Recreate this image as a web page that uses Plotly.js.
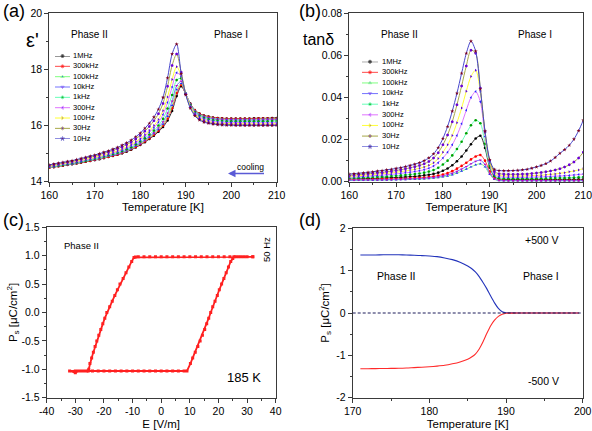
<!DOCTYPE html>
<html><head><meta charset="utf-8">
<script src="https://cdn.plot.ly/plotly-3.0.1.min.js"></script>
<style>html,body{margin:0;padding:0;background:#fff;} #chart{width:592px;height:431px;}</style>
</head><body><div id="chart"></div>
<script>
// ---------- DATA ----------
const T = [160,161,162,163,164,165,166,167,168,169,170,171,172,173,174,175,176,177,178,179,180,181,182,183,184,185,186,187,188,189,190,191,192,193,194,195,196,197,198,199,200,201,202,203,204,205,206,207,208,209,210];
const freqs = ['1MHz','300kHz','100kHz','10kHz','1kHz','300Hz','100Hz','30Hz','10Hz'];

// panel (a): real permittivity
const eps1MHz  = [14.50,14.52,14.55,14.57,14.60,14.62,14.65,14.68,14.71,14.74,14.77,14.80,14.84,14.88,14.92,14.96,15.01,15.07,15.14,15.22,15.31,15.41,15.52,15.64,15.78,15.95,16.18,16.52,17.05,17.40,17.12,16.78,16.55,16.43,16.36,16.32,16.29,16.27,16.26,16.25,16.25,16.25,16.25,16.25,16.25,16.26,16.26,16.26,16.26,16.27,16.27];
const eps300kHz= [14.50,14.52,14.55,14.58,14.61,14.63,14.66,14.69,14.72,14.75,14.78,14.81,14.85,14.89,14.93,14.97,15.02,15.09,15.16,15.24,15.33,15.43,15.55,15.67,15.82,16.00,16.25,16.62,17.16,17.45,17.12,16.77,16.54,16.42,16.35,16.31,16.28,16.26,16.25,16.24,16.24,16.24,16.24,16.24,16.24,16.24,16.25,16.25,16.25,16.25,16.25];
const eps100kHz= [14.51,14.53,14.56,14.58,14.61,14.63,14.66,14.70,14.73,14.76,14.79,14.82,14.86,14.90,14.94,14.99,15.04,15.10,15.17,15.26,15.35,15.46,15.58,15.71,15.86,16.05,16.33,16.72,17.28,17.50,17.13,16.76,16.53,16.40,16.33,16.29,16.26,16.24,16.23,16.22,16.22,16.22,16.22,16.22,16.22,16.22,16.22,16.23,16.23,16.23,16.23];
const eps10kHz = [14.52,14.54,14.57,14.59,14.62,14.64,14.67,14.71,14.74,14.77,14.80,14.83,14.88,14.92,14.96,15.00,15.06,15.12,15.20,15.29,15.38,15.49,15.62,15.75,15.92,16.13,16.44,16.87,17.42,17.58,17.14,16.75,16.51,16.38,16.30,16.26,16.23,16.21,16.20,16.19,16.19,16.19,16.19,16.19,16.19,16.19,16.19,16.19,16.20,16.20,16.20];
const eps1kHz  = [14.53,14.55,14.58,14.60,14.63,14.66,14.69,14.72,14.75,14.79,14.82,14.86,14.90,14.94,14.99,15.03,15.09,15.16,15.23,15.33,15.43,15.55,15.68,15.82,16.00,16.24,16.61,17.09,17.62,17.68,17.14,16.73,16.48,16.35,16.27,16.22,16.19,16.17,16.16,16.15,16.15,16.15,16.15,16.15,16.15,16.15,16.15,16.15,16.15,16.16,16.16];
const eps300Hz = [14.54,14.57,14.60,14.62,14.65,14.68,14.71,14.74,14.78,14.81,14.85,14.88,14.93,14.97,15.02,15.07,15.13,15.20,15.28,15.38,15.49,15.62,15.76,15.92,16.12,16.39,16.82,17.37,17.88,17.75,17.14,16.70,16.45,16.31,16.23,16.18,16.15,16.13,16.12,16.11,16.11,16.11,16.11,16.10,16.10,16.10,16.10,16.10,16.10,16.10,16.10];
const eps100Hz = [14.56,14.58,14.61,14.64,14.67,14.69,14.73,14.76,14.80,14.83,14.87,14.91,14.96,15.00,15.05,15.10,15.17,15.24,15.33,15.43,15.54,15.68,15.83,16.00,16.22,16.53,17.02,17.64,18.10,17.78,17.13,16.68,16.42,16.27,16.19,16.14,16.11,16.09,16.08,16.07,16.07,16.07,16.07,16.07,16.06,16.06,16.06,16.06,16.06,16.06,16.06];
const eps30Hz  = [14.58,14.61,14.64,14.67,14.70,14.72,14.76,14.80,14.84,14.88,14.91,14.96,15.01,15.06,15.11,15.17,15.24,15.32,15.41,15.52,15.65,15.80,15.97,16.17,16.42,16.79,17.40,18.14,18.55,17.90,17.12,16.65,16.38,16.23,16.15,16.10,16.08,16.06,16.05,16.04,16.04,16.04,16.04,16.03,16.03,16.03,16.03,16.03,16.03,16.03,16.03];
const eps10Hz  = [14.60,14.63,14.66,14.69,14.72,14.75,14.79,14.83,14.87,14.91,14.95,15.00,15.05,15.10,15.16,15.22,15.30,15.38,15.48,15.60,15.73,15.90,16.08,16.30,16.58,17.00,17.70,18.55,18.90,17.85,17.10,16.62,16.35,16.20,16.12,16.08,16.05,16.03,16.02,16.01,16.01,16.00,16.00,16.00,16.00,16.00,16.00,16.00,16.00,16.00,16.00];

// panel (b): loss tangent
const tan1MHz  = [.0013,.0013,.0014,.0014,.0015,.0016,.0016,.0017,.0018,.0019,.0020,.0021,.0022,.0024,.0025,.0027,.0030,.0033,.0037,.0043,.0052,.0063,.0078,.0097,.0120,.0148,.0178,.0205,.0218,.0160,.0068,.0025,.0013,.0011,.0010,.0010,.0010,.0010,.0010,.0010,.0010,.0010,.0010,.0010,.0010,.0011,.0011,.0011,.0011,.0011,.0011];
const tan300kHz= [.0009,.0009,.0010,.0010,.0010,.0011,.0011,.0012,.0012,.0013,.0014,.0014,.0015,.0016,.0017,.0018,.0020,.0022,.0025,.0029,.0034,.0041,.0050,.0062,.0075,.0090,.0106,.0120,.0127,.0100,.0048,.0015,.0008,.0007,.0006,.0006,.0006,.0006,.0006,.0006,.0006,.0006,.0006,.0006,.0006,.0006,.0006,.0006,.0006,.0006,.0006];
const tan100kHz= [.0006,.0006,.0006,.0007,.0007,.0007,.0008,.0008,.0008,.0009,.0009,.0010,.0010,.0011,.0011,.0012,.0013,.0015,.0017,.0019,.0023,.0027,.0033,.0041,.0050,.0060,.0070,.0080,.0085,.0070,.0035,.0011,.0005,.0004,.0004,.0004,.0004,.0004,.0004,.0004,.0004,.0004,.0004,.0004,.0004,.0004,.0004,.0004,.0004,.0004,.0004];
const tan10kHz = [.0007,.0007,.0008,.0008,.0008,.0009,.0009,.0009,.0010,.0010,.0011,.0011,.0012,.0013,.0014,.0015,.0016,.0018,.0020,.0023,.0027,.0033,.0040,.0049,.0060,.0072,.0085,.0097,.0102,.0082,.0040,.0013,.0006,.0005,.0005,.0005,.0005,.0005,.0005,.0005,.0005,.0005,.0005,.0005,.0005,.0005,.0005,.0005,.0005,.0005,.0005];
const tan1kHz  = [.0018,.0019,.0019,.0020,.0021,.0022,.0023,.0024,.0025,.0027,.0028,.0030,.0032,.0034,.0036,.0039,.0043,.0048,.0055,.0066,.0082,.0100,.0125,.0155,.0190,.0230,.0268,.0292,.0278,.0180,.0075,.0028,.0017,.0015,.0015,.0015,.0015,.0015,.0015,.0015,.0016,.0016,.0016,.0017,.0017,.0018,.0018,.0019,.0020,.0021,.0022];
const tan300Hz = [.0022,.0023,.0024,.0025,.0027,.0028,.0030,.0031,.0033,.0035,.0037,.0040,.0042,.0045,.0048,.0052,.0057,.0064,.0074,.0090,.0112,.0140,.0175,.0220,.0275,.0340,.0400,.0428,.0380,.0215,.0088,.0034,.0024,.0022,.0021,.0021,.0021,.0021,.0021,.0022,.0022,.0023,.0024,.0025,.0026,.0027,.0028,.0030,.0032,.0034,.0036];
const tan100Hz = [.0026,.0027,.0029,.0030,.0032,.0034,.0036,.0038,.0040,.0042,.0045,.0048,.0051,.0055,.0059,.0064,.0070,.0078,.0090,.0110,.0140,.0175,.0220,.0280,.0350,.0430,.0500,.0530,.0430,.0232,.0095,.0040,.0030,.0028,.0027,.0027,.0027,.0027,.0028,.0029,.0030,.0031,.0033,.0035,.0037,.0040,.0043,.0047,.0051,.0056,.0062];
const tan30Hz  = [.0030,.0032,.0034,.0036,.0038,.0040,.0042,.0044,.0047,.0050,.0053,.0057,.0061,.0066,.0071,.0077,.0085,.0096,.0112,.0138,.0175,.0222,.0285,.0365,.0455,.0550,.0625,.0610,.0445,.0238,.0100,.0048,.0038,.0036,.0035,.0035,.0035,.0036,.0037,.0039,.0041,.0044,.0047,.0051,.0056,.0062,.0070,.0080,.0094,.0113,.0140];
const tan10Hz  = [.0036,.0038,.0040,.0042,.0044,.0047,.0050,.0053,.0056,.0059,.0063,.0067,.0072,.0077,.0083,.0090,.0100,.0113,.0132,.0162,.0205,.0262,.0335,.0420,.0515,.0610,.0668,.0620,.0440,.0240,.0105,.0058,.0053,.0052,.0052,.0053,.0054,.0056,.0059,.0064,.0070,.0077,.0086,.0098,.0115,.0135,.0152,.0173,.0202,.0242,.0292];

// panel (c): P–E loop at 185 K
const loopE = [32,30,28,26,24,22,20,18,16,14,12,10,8,6,4,2,0,-2,-4,-6,-8,-9,
  -9.5,-10.3,-11.3,-12.3,-13.3,-14.4,-15.3,-16.2,-17.1,-18.0,-19.0,-19.7,-20.4,-21.1,-21.8,-22.5,-23.1,-23.7,-24.3,-24.9,-25.3,-25.5,
  -27,-29,-30,-32,
  -30,-28,-26,-24,-22,-20,-18,-16,-14,-12,-10,-8,-6,-4,-2,0,2,4,6,8,9,
  10.2,11.0,11.9,12.8,13.6,14.4,15.2,15.9,16.6,17.3,18.0,18.8,19.6,20.3,21.1,21.9,22.7,23.5,24.3,25.0,25.4,
  27,29,32];
const loopP = [0.98,0.98,0.98,0.98,0.98,0.98,0.98,0.98,0.98,0.98,0.98,0.98,0.98,0.98,0.98,0.98,0.98,0.98,0.98,0.98,0.98,0.975,
  0.97,0.9,0.8,0.7,0.6,0.5,0.4,0.3,0.2,0.1,0.0,-0.1,-0.2,-0.3,-0.4,-0.5,-0.6,-0.7,-0.8,-0.9,-1.0,-1.03,
  -1.03,-1.03,-1.06,-1.03,
  -1.03,-1.03,-1.03,-1.03,-1.03,-1.03,-1.03,-1.03,-1.03,-1.03,-1.03,-1.03,-1.03,-1.03,-1.03,-1.03,-1.03,-1.03,-1.03,-1.03,-1.03,
  -0.9,-0.8,-0.7,-0.6,-0.5,-0.4,-0.3,-0.2,-0.1,0.0,0.1,0.2,0.3,0.4,0.5,0.6,0.7,0.8,0.9,0.95,0.98,
  0.98,0.98,0.98];

// panel (d): polarization vs temperature
const dT    = [171,172,173,174,175,176,177,178,179,180,181,182,183,184,185,185.5,186,186.5,187,187.5,188,188.5,189,189.5,190,191,192,193,194,195,196,197,198,199,199.5];
const dPpos = [1.37,1.37,1.37,1.375,1.375,1.375,1.37,1.365,1.355,1.345,1.33,1.30,1.26,1.20,1.11,1.05,0.97,0.86,0.72,0.57,0.40,0.24,0.11,0.03,0.005,0.002,0.001,0,0,0,0,0,0,0,0];
const dPneg = [-1.315,-1.315,-1.313,-1.31,-1.308,-1.305,-1.30,-1.29,-1.28,-1.27,-1.255,-1.235,-1.20,-1.155,-1.09,-1.04,-0.97,-0.85,-0.68,-0.48,-0.30,-0.17,-0.08,-0.03,-0.005,-0.002,-0.001,0,0,0,0,0,0,0,0];

// tick labels with ASCII hyphen minus
const cXticks = [-40,-30,-20,-10,0,10,20,30,40];
const cXlabels = ['-40','-30','-20','-10','0','10','20','30','40'];
const cYticks = [-1.5,-1.0,-0.5,0,0.5,1.0,1.5];
const cYlabels = ['-1.5','-1.0','-0.5','0.0','0.5','1.0','1.5'];
const dYticks = [-2,-1,0,1,2];
const dYlabels = ['-2','-1','0','1','2'];

// ---------- STYLE ----------
const epsSeries = [eps1MHz,eps300kHz,eps100kHz,eps10kHz,eps1kHz,eps300Hz,eps100Hz,eps30Hz,eps10Hz];
const tanSeries = [tan1MHz,tan300kHz,tan100kHz,tan10kHz,tan1kHz,tan300Hz,tan100Hz,tan30Hz,tan10Hz];
const lineColors = ['#303030','#ff4a4a','#80ff80','#7474ff','#66ffb8','#e074ff','#ffff33','#a8a848','#4646cc'];
const markColors = ['#000000','#ff0000','#2323ff','#c000c0','#00a000','#2626ff','#5a00e0','#6a00d8','#7a0020'];
const symbols = ['circle','circle','triangle-up','triangle-down','circle','triangle-left','triangle-right','hexagon','star'];

const W = 592, H = 431;
const px = v => v / W;
const py = v => 1 - v / H;
const FONT = 'Liberation Sans, Arial, Helvetica, sans-serif';
const msize = s => (s === 'star' || s === 'hexagon') ? 3 : 2.6;

const traces = [];
freqs.forEach((f, i) => {
  traces.push({x: T, y: epsSeries[i], xaxis: 'x', yaxis: 'y', mode: 'lines+markers', name: f,
    line: {color: lineColors[i], width: 1, shape: 'spline', smoothing: 0.8},
    marker: {symbol: symbols[i], size: msize(symbols[i]), color: markColors[i]}});
});
freqs.forEach((f, i) => {
  traces.push({x: T, y: tanSeries[i], xaxis: 'x2', yaxis: 'y2', mode: 'lines+markers', name: f,
    line: {color: lineColors[i], width: 1, shape: 'spline', smoothing: 0.8},
    marker: {symbol: symbols[i], size: msize(symbols[i]), color: markColors[i]}});
});
traces.push({x: loopE, y: loopP, xaxis: 'x3', yaxis: 'y3', mode: 'lines+markers',
  line: {color: '#ff2020', width: 1.8}, marker: {symbol: 'square', size: 3, color: '#ff2020'}});
traces.push({x: dT, y: dPpos, xaxis: 'x4', yaxis: 'y4', mode: 'lines',
  line: {color: '#2233bb', width: 1.1, shape: 'spline', smoothing: 0.6}});
traces.push({x: dT, y: dPneg, xaxis: 'x4', yaxis: 'y4', mode: 'lines',
  line: {color: '#ff2a2a', width: 1.1, shape: 'spline', smoothing: 0.6}});

// custom compact legends (a) -> x5/y5, (b) -> x6/y6
[['x5','y5',2.4],['x6','y6',2.5]].forEach(([xa, ya, tx]) => {
  freqs.forEach((f, i) => {
    traces.push({x: [0,1,2], y: [i,i,i], xaxis: xa, yaxis: ya, mode: 'lines+markers', cliponaxis: false,
      line: {color: lineColors[i], width: 1}, marker: {symbol: symbols[i], size: [0, 3, 0], color: markColors[i]}});
  });
  traces.push({x: freqs.map(() => tx), y: freqs.map((f, i) => i), xaxis: xa, yaxis: ya, mode: 'text',
    text: freqs, textposition: 'middle right', cliponaxis: false, textfont: {size: 7.5, family: FONT, color: '#000'}});
});

const base = {showline: true, linecolor: '#3a3a3a', linewidth: 1, mirror: true, ticks: 'outside', ticklen: 4,
  tickwidth: 1, tickcolor: '#3a3a3a', showgrid: false, zeroline: false, automargin: false, ticklabeloverflow: 'allow',
  tickfont: {size: 10.5, family: FONT, color: '#000'}};
const minor = d => ({dtick: d, ticks: 'outside', ticklen: 2, tickcolor: '#3a3a3a', showgrid: false});
const ttl = (t, s) => ({text: t, standoff: s, font: {size: 11.5, family: FONT, color: '#000'}});
const hid = {visible: false, showgrid: false, zeroline: false, fixedrange: true};

const layout = {
  width: W, height: H, margin: {l: 0, r: 0, t: 0, b: 0}, showlegend: false,
  paper_bgcolor: '#fff', plot_bgcolor: '#fff', font: {family: FONT, color: '#000'},
  xaxis:  Object.assign({}, base, {domain: [px(49.3), px(276.7)], range: [160, 210], dtick: 10, minor: minor(5), anchor: 'y', title: ttl('Temperature [K]', 0)}),
  yaxis:  Object.assign({}, base, {domain: [py(181.7), py(13.3)], range: [14, 20], dtick: 2, minor: minor(1), anchor: 'x'}),
  xaxis2: Object.assign({}, base, {domain: [px(349.3), px(583.3)], range: [160, 210], dtick: 10, minor: minor(5), anchor: 'y2', title: ttl('Temperature [K]', 0)}),
  yaxis2: Object.assign({}, base, {domain: [py(181.7), py(13.3)], range: [0, 0.08], dtick: 0.02, tickformat: '.2f', minor: minor(0.01), anchor: 'x2'}),
  xaxis3: Object.assign({}, base, {domain: [px(46.7), px(275.7)], range: [-40, 40], tickmode: 'array', tickvals: cXticks, ticktext: cXlabels, minor: minor(5), anchor: 'y3', title: ttl('E [V/m]', 3)}),
  yaxis3: Object.assign({}, base, {domain: [py(397.7), py(227.3)], range: [-1.5, 1.5], tickmode: 'array', tickvals: cYticks, ticktext: cYlabels, minor: minor(0.25), anchor: 'x3', title: ttl('P<sub>s</sub> [μC/cm<sup>2</sup>]', 0)}),
  xaxis4: Object.assign({}, base, {domain: [px(352.7), px(582.7)], range: [170, 200], dtick: 10, minor: minor(5), anchor: 'y4', title: ttl('Temperature [K]', 3)}),
  yaxis4: Object.assign({}, base, {domain: [py(397.7), py(228.3)], range: [-2, 2], tickmode: 'array', tickvals: dYticks, ticktext: dYlabels, minor: minor(0.5), anchor: 'x4', title: ttl('P<sub>s</sub> [μC/cm<sup>2</sup>]', 4)}),
  xaxis5: Object.assign({}, hid, {domain: [px(55), px(77.5)], range: [0, 3], anchor: 'y5'}),
  yaxis5: Object.assign({}, hid, {domain: [py(138.7), py(56)], range: [8, 0], anchor: 'x5'}),
  xaxis6: Object.assign({}, hid, {domain: [px(362), px(386)], range: [0, 3], anchor: 'y6'}),
  yaxis6: Object.assign({}, hid, {domain: [py(146.7), py(61.7)], range: [8, 0], anchor: 'x6'}),
  shapes: [
    {type: 'line', xref: 'x4 domain', yref: 'y4', x0: 0, x1: 1, y0: 0, y1: 0, layer: 'above',
     line: {color: '#1c1c5a', width: 1, dash: '3px,2px'}}
  ],
  annotations: []
};

const ann = (text, x, y, size, extra) => Object.assign({text: text, x: px(x), y: py(y), xref: 'paper', yref: 'paper',
  showarrow: false, xanchor: 'center', yanchor: 'middle', font: {size: size, family: FONT, color: '#000'}}, extra || {});
layout.annotations.push(
  ann('(a)', 1, 11, 18, {xanchor: 'left'}),
  ann('(b)', 297, 11, 18, {xanchor: 'left'}),
  ann('(c)', 1, 220, 18, {xanchor: 'left'}),
  ann('(d)', 297, 220, 18, {xanchor: 'left'}),
  ann("ε'", 32, 40, 20),
  ann('tanδ', 318, 39, 16),
  ann('Phase II', 89, 34, 10),
  ann('Phase I', 231, 34, 10),
  ann('cooling', 250, 167, 8.5),
  ann('Phase II', 399, 34, 10),
  ann('Phase I', 535, 34, 10),
  ann('Phase II', 81, 245, 9.5),
  ann('50 Hz', 266, 250, 9.5, {textangle: -90}),
  ann('185 K', 244, 377, 13),
  ann('+500 V', 542, 240, 10.5),
  ann('Phase II', 396, 276, 10.5),
  ann('Phase I', 541, 276, 10.5),
  ann('-500 V', 543, 381, 10.5),
  {text: ' ', x: px(228), y: py(173.5), xref: 'paper', yref: 'paper', showarrow: true, ax: 39, ay: 0,
   arrowhead: 2, arrowsize: 1, arrowwidth: 1.5, arrowcolor: '#5a5ad6'}
);

Plotly.newPlot('chart', traces, layout, {staticPlot: true, displayModeBar: false});
</script></body></html>
